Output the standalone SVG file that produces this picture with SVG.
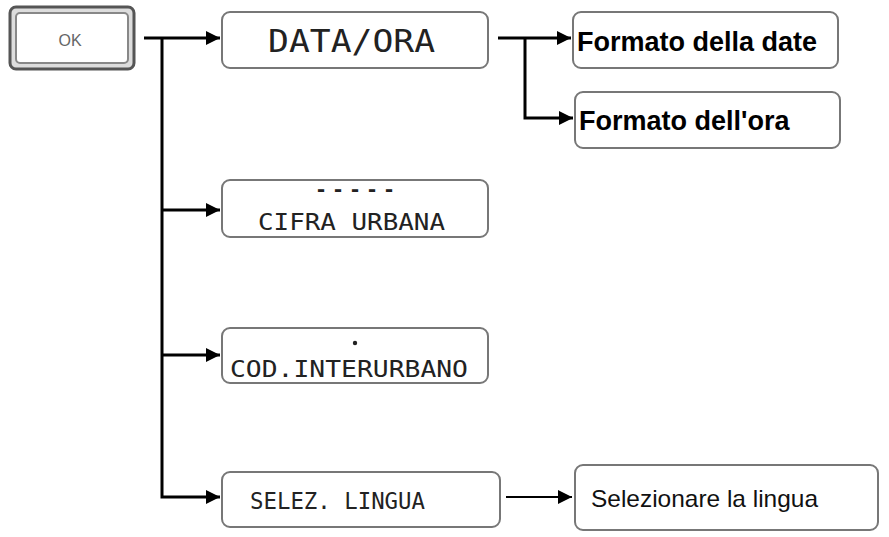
<svg xmlns="http://www.w3.org/2000/svg" width="889" height="537" viewBox="0 0 889 537">
<style>
.box{fill:#fff;stroke:#777;stroke-width:2}
.lcd{font-family:"DejaVu Sans Mono",monospace;fill:#222}
.b{font-family:"Liberation Sans",Arial,sans-serif;font-weight:bold;font-size:27px;fill:#000}
.c{fill:none;stroke:#000;stroke-width:3}
</style>
<defs>
<marker id="h" viewBox="0 0 10 10" refX="10" refY="5" markerWidth="16" markerHeight="14" orient="auto" markerUnits="userSpaceOnUse"><path d="M0,0 L10,5 L0,10Z" fill="#000"/></marker></defs>
<g id="ok"><rect x="10" y="7" width="124" height="62" rx="6" fill="#ddd" stroke="#555" stroke-width="3"/><rect x="16" y="13" width="112" height="50" rx="4" fill="#fff" stroke="#888" stroke-width="2"/><text x="70" y="46" text-anchor="middle" font-family="Liberation Sans,sans-serif" font-size="16" fill="#666">OK</text></g>
<g id="dataora"><rect class="box" x="222" y="12" width="266" height="56" rx="8"/><text class="lcd" x="268" y="52" font-size="32" textLength="167" lengthAdjust="spacingAndGlyphs">DATA/ORA</text></g>
<g id="cifra"><rect class="box" x="222" y="180" width="266" height="57" rx="8"/><text class="lcd" x="315" y="196" font-size="20" font-weight="bold" textLength="80" lengthAdjust="spacing">-----</text><text class="lcd" x="258" y="230" font-size="23" textLength="187" lengthAdjust="spacingAndGlyphs">CIFRA URBANA</text></g>
<g id="cod"><rect class="box" x="222" y="328" width="266" height="55" rx="8"/><circle cx="355" cy="343" r="2.2" fill="#222"/><text class="lcd" x="230" y="377" font-size="23" textLength="238" lengthAdjust="spacingAndGlyphs">COD.INTERURBANO</text></g>
<g id="selez"><rect class="box" x="222" y="472" width="278" height="55" rx="8"/><text class="lcd" x="250" y="509" font-size="23" textLength="175" lengthAdjust="spacingAndGlyphs">SELEZ. LINGUA</text></g>
<g id="fdate"><rect class="box" x="573" y="12" width="265" height="56" rx="8"/><text class="b" x="577" y="51">Formato della date</text></g>
<g id="fora"><rect class="box" x="575" y="92" width="265" height="56" rx="8"/><text class="b" x="579" y="130">Formato dell'ora</text></g>
<g id="sel"><rect class="box" x="575" y="465" width="303" height="65" rx="8"/><text x="591" y="507" font-family="Liberation Sans,sans-serif" font-size="24" fill="#111" textLength="227" lengthAdjust="spacingAndGlyphs">Selezionare la lingua</text></g>
<g id="connectors" class="c">
<path d="M144,38 H220" marker-end="url(#h)"/>
<path d="M162,38 V497 H220" marker-end="url(#h)"/>
<path d="M162,210 H220" marker-end="url(#h)"/>
<path d="M162,355 H220" marker-end="url(#h)"/>
<path d="M498,38 H571" marker-end="url(#h)"/>
<path d="M525,38 V118 H573" marker-end="url(#h)"/>
<path d="M506,497 H572" stroke-width="2" marker-end="url(#h)"/>
</g>
</svg>
